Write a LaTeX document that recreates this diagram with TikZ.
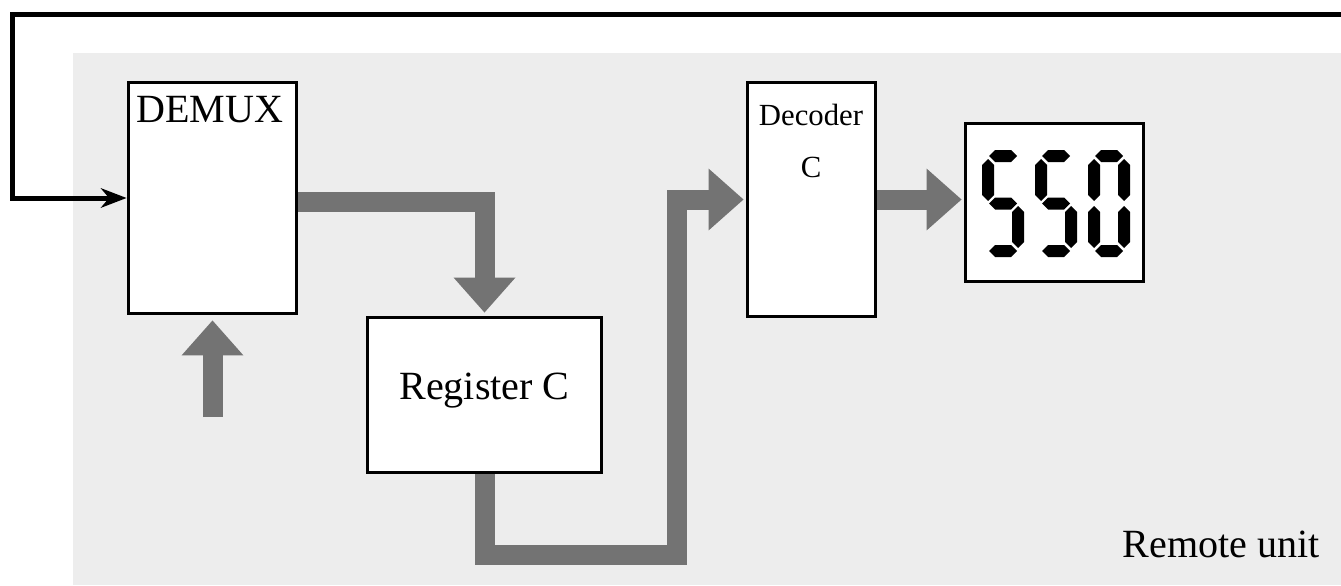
\documentclass[tikz,border=0pt]{standalone}
\usepackage{fontspec}
\setmainfont{Liberation Serif}
\usetikzlibrary{arrows.meta,positioning}

\definecolor{panelgray}{gray}{0.93}
\definecolor{busgray}{gray}{0.45}

% seven segment pieces (x, y in pixel units of the picture)
\newcommand{\hseg}[3]{\fill[segment] (#1,#3) -- ({#1+6},{#3-6}) -- ({#2-6},{#3-6}) -- (#2,#3) -- ({#2-6},{#3+6}) -- ({#1+6},{#3+6}) -- cycle;}
\newcommand{\vseg}[3]{\fill[segment] (#1,#2) -- ({#1+6},{#2+6}) -- ({#1+6},{#3-6}) -- (#1,#3) -- ({#1-6},{#3-6}) -- ({#1-6},{#2+6}) -- cycle;}
\newcommand{\dsega}[1]{\hseg{#1+7}{#1+35}{156}}
\newcommand{\dsegg}[1]{\hseg{#1+7}{#1+35}{203.5}}
\newcommand{\dsegd}[1]{\hseg{#1+7}{#1+35}{251}}
\newcommand{\dsegf}[1]{\vseg{#1+6}{159}{201}}
\newcommand{\dsegb}[1]{\vseg{#1+36}{159}{201}}
\newcommand{\dsege}[1]{\vseg{#1+6}{206}{248}}
\newcommand{\dsegc}[1]{\vseg{#1+36}{206}{248}}
\newcommand{\segdigit}[2]{\foreach \sg in {#2}{\csname dseg\sg\endcsname{#1}}}

\begin{document}
\begin{tikzpicture}[x=0.02cm, y=-0.02cm,
  every node/.style={align=center},
  block/.style={draw, fill=white, line width=0.06cm, inner sep=0pt},
  bus/.style={color=busgray, line width=0.4cm, -{Triangle[width=1.24cm,length=0.7cm,line width=0pt]}},
  feedback/.style={line width=0.1cm, -{Stealth[length=0.52cm,width=0.4cm,line width=0pt]}},
  bigtext/.style={font=\fontsize{22.8pt}{27pt}\selectfont, inner sep=0pt},
  smalltext/.style={font=\fontsize{17.5pt}{29.6pt}\selectfont, inner sep=0pt},
  segment/.style={fill=black}]
\useasboundingbox (0,0) rectangle (1341,585);
\fill[panelgray] (73,53) rectangle (1341,585);

\node[block, minimum width=3.38cm, minimum height=4.64cm] (demux) at (212.5,198) {};
\node[block, minimum width=4.7cm, minimum height=3.12cm] (reg) at (484.5,395) {};
\node[block, minimum width=2.56cm, minimum height=4.7cm] (dec) at (811,199.5) {};
\node[block, minimum width=3.56cm, minimum height=3.18cm] (disp) at (1054,202.5) {};

\node[bigtext, anchor=base west] (demuxlbl) at (136,122) {DEMUX};
\node[bigtext, anchor=base] (reglbl) at (484.5,399) {Register C};
\node[smalltext, anchor=north] (declbl) at (811,104) {Decoder\\C};
\node[bigtext, anchor=base east] (remote) at (1320,557) {Remote unit};

% digits on the display
\segdigit{982}{a,f,g,c,d}
\segdigit{1035}{a,f,g,c,d}
\segdigit{1088}{a,b,c,d,e,f}

\coordinate (fbin) at (1341,14.5);
\coordinate (fbbend) at (12.5,14.5);
\coordinate (clkin) at (212.5,417);
\coordinate (busturn) at (677,555);

\draw[feedback] (fbin) -- (fbbend) |- (demux.west);
\draw[bus, shorten >=0.1cm] (clkin) -- (demux);
\draw[bus, shorten >=0.06cm] ([yshift=-0.08cm]demux.east) -| (reg.north);
\draw[bus, shorten >=0.04cm] (reg.south) |- (busturn) |- (dec.west);
\draw[bus, shorten >=0.04cm] (dec.east) -- (dec.east -| disp.west);
\end{tikzpicture}
\end{document}
